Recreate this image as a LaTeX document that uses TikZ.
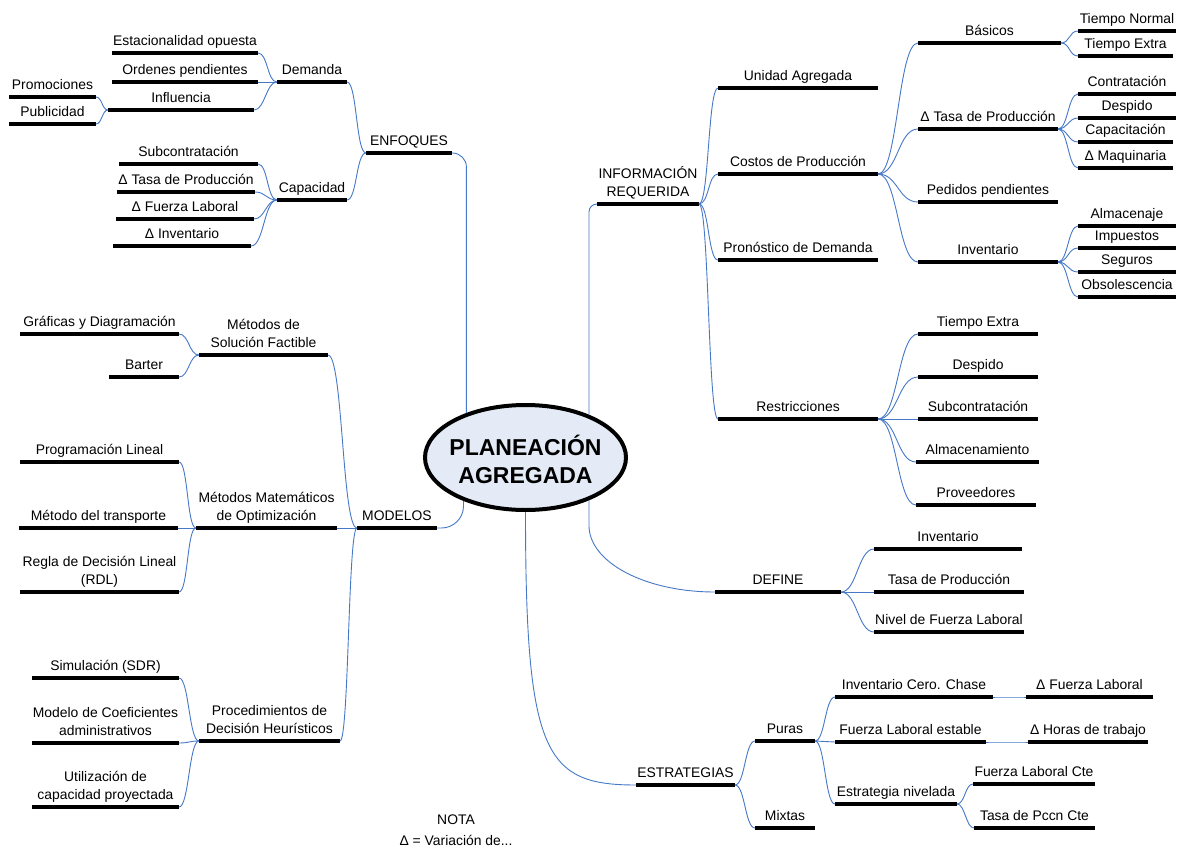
\documentclass[tikz,border=0pt]{standalone}
\usepackage{fontspec}
\setmainfont{Liberation Sans}
\usetikzlibrary{shapes.geometric}
\definecolor{linkblue}{RGB}{70,120,200}
\definecolor{corefill}{RGB}{228,235,246}
\newcommand\lblfont{\fontsize{13.9pt}{18pt}\selectfont}
\newcommand\titlefont{\fontsize{23pt}{28pt}\selectfont\bfseries}
\tikzset{
  barline/.style={fill=black, inner sep=0pt, outer sep=0pt, minimum height=4.5pt},
  lbl/.style={font=\lblfont, inner sep=0pt, align=center, text depth=3.2pt},
  conn/.style={draw=linkblue, line width=0.9pt},
}
% a topic: thick underline (the named node) with its caption above it
\newcommand\mmbranch[5]{\node[barline, minimum width={#3-#2},
  label={[lbl, label distance=2pt]above:{#5}}] (#1) at ({(#2+#3)/2},#4) {};}
% curved connector from the right end of one bar to the left end of another
\newcommand\mmjoin[3]{\draw[conn] (#1.east) .. controls +(#3,0) and +(-#3,0) .. (#2.west);}

\begin{document}
\begin{tikzpicture}[x=1pt,y=-1pt]
\useasboundingbox (0,0) rectangle (1181,848);
\fill[white] (0,0) rectangle (1181,848);

% central topic
\node[ellipse, draw, line width=4pt, fill=corefill, minimum width=201pt,
  minimum height=105pt, inner sep=0pt] (core) at (525.5,457.5) {};
\node[font=\titlefont, align=center, inner sep=0pt] (coretext) at (525.5,459) {PLANEACIÓN\\AGREGADA};

% ENFOQUES
\mmbranch{estac}{112}{258}{53}{Estacionalidad opuesta}
\mmbranch{orden}{112}{258}{82}{Ordenes pendientes}
\mmbranch{influ}{108}{254}{110}{Influencia}
\mmbranch{promo}{9}{96}{97}{Promociones}
\mmbranch{publi}{9}{96}{124}{Publicidad}
\mmbranch{dem}{277}{347}{82}{Demanda}
\mmbranch{enf}{366}{452}{153}{ENFOQUES}
\mmbranch{subc}{119}{258}{164}{Subcontratación}
\mmbranch{dtasa}{117}{255}{192}{Δ Tasa de Producción}
\mmbranch{dfuer}{116}{254}{219}{Δ Fuerza Laboral}
\mmbranch{dinv}{113}{251}{246}{Δ Inventario}
\mmbranch{cap}{277}{347}{200}{Capacidad}

% MODELOS
\mmbranch{graf}{20}{179}{334}{Gráficas y Diagramación}
\mmbranch{barter}{109}{179}{377}{Barter}
\mmbranch{msol}{199}{328}{355}{Métodos de\\Solución Factible}
\mmbranch{plin}{20}{179}{462}{Programación Lineal}
\mmbranch{mtrans}{19}{178}{528}{Método del transporte}
\mmbranch{rdl}{20}{179}{592}{Regla de Decisión Lineal\\(RDL)}
\mmbranch{mmat}{196}{337}{528}{Métodos Matemáticos\\de Optimización}
\mmbranch{mod}{357}{437}{528}{MODELOS}
\mmbranch{sim}{32}{179}{678}{Simulación (SDR)}
\mmbranch{coef}{32}{179}{743}{Modelo de Coeficientes\\administrativos}
\mmbranch{util}{32}{179}{807}{Utilización de\\capacidad proyectada}
\mmbranch{proc}{199}{340}{741}{Procedimientos de\\Decisión Heurísticos}

% INFORMACIÓN REQUERIDA
\mmbranch{info}{597}{699}{204}{INFORMACIÓN\\REQUERIDA}
\mmbranch{unid}{718}{878}{88}{Unidad Agregada}
\mmbranch{costos}{718}{878}{174}{Costos de Producción}
\mmbranch{prono}{718}{878}{260}{Pronóstico de Demanda}
\mmbranch{restr}{718}{878}{419}{Restricciones}
\mmbranch{basic}{918}{1061}{43}{Básicos}
\mmbranch{ctasa}{918}{1058}{129}{Δ Tasa de Producción}
\mmbranch{pedid}{918}{1058}{202}{Pedidos pendientes}
\mmbranch{cinv}{918}{1058}{262}{Inventario}
\mmbranch{tnorm}{1078}{1176}{31}{Tiempo Normal}
\mmbranch{textra}{1078}{1173}{56}{Tiempo Extra}
\mmbranch{contr}{1078}{1176}{94}{Contratación}
\mmbranch{desp}{1078}{1176}{118}{Despido}
\mmbranch{capac}{1078}{1173}{142}{Capacitación}
\mmbranch{dmaq}{1078}{1173}{168}{Δ Maquinaria}
\mmbranch{almac}{1078}{1176}{226}{Almacenaje}
\mmbranch{impu}{1078}{1176}{248}{Impuestos}
\mmbranch{segu}{1078}{1176}{272}{Seguros}
\mmbranch{obso}{1078}{1176}{297}{Obsolescencia}
\mmbranch{rtext}{918}{1038}{334}{Tiempo Extra}
\mmbranch{rdesp}{918}{1038}{377}{Despido}
\mmbranch{rsubc}{918}{1038}{419}{Subcontratación}
\mmbranch{ralm}{916}{1039}{462}{Almacenamiento}
\mmbranch{rprov}{916}{1036}{505}{Proveedores}

% DEFINE
\mmbranch{def}{715}{841}{592}{DEFINE}
\mmbranch{dinvb}{874}{1022}{549}{Inventario}
\mmbranch{dtasab}{874}{1024}{592}{Tasa de Producción}
\mmbranch{dniv}{874}{1024}{632}{Nivel de Fuerza Laboral}

% ESTRATEGIAS
\mmbranch{estr}{636}{735}{785}{ESTRATEGIAS}
\mmbranch{puras}{755}{815}{741}{Puras}
\mmbranch{mixtas}{755}{815}{828}{Mixtas}
\mmbranch{icero}{835}{993}{697}{Inventario Cero. Chase}
\mmbranch{fles}{835}{986}{742}{Fuerza Laboral estable}
\mmbranch{enivel}{835}{957}{804}{Estrategia nivelada}
\mmbranch{dfl}{1026}{1153}{697}{Δ Fuerza Laboral}
\mmbranch{dhor}{1028}{1148}{742}{Δ Horas de trabajo}
\mmbranch{flcte}{973}{1095}{784}{Fuerza Laboral Cte}
\mmbranch{tpcte}{974}{1095}{828}{Tasa de Pccn Cte}

% connectors, left half
\mmjoin{estac}{dem}{10}
\mmjoin{orden}{dem}{10}
\mmjoin{influ}{dem}{11}
\mmjoin{promo}{influ}{6}
\mmjoin{publi}{influ}{6}
\mmjoin{dem}{enf}{10}
\mmjoin{cap}{enf}{10}
\mmjoin{subc}{cap}{10}
\mmjoin{dtasa}{cap}{11}
\mmjoin{dfuer}{cap}{11}
\mmjoin{dinv}{cap}{13}
\mmjoin{graf}{msol}{10}
\mmjoin{barter}{msol}{10}
\mmjoin{plin}{mmat}{9}
\mmjoin{mtrans}{mmat}{9}
\mmjoin{rdl}{mmat}{9}
\mmjoin{sim}{proc}{10}
\mmjoin{coef}{proc}{10}
\mmjoin{util}{proc}{10}
\mmjoin{msol}{mod}{15}
\mmjoin{mmat}{mod}{10}
\mmjoin{proc}{mod}{9}

% connectors, right half
\mmjoin{info}{unid}{10}
\mmjoin{info}{costos}{10}
\mmjoin{info}{prono}{10}
\mmjoin{info}{restr}{10}
\mmjoin{costos}{basic}{20}
\mmjoin{costos}{ctasa}{20}
\mmjoin{costos}{pedid}{20}
\mmjoin{costos}{cinv}{20}
\mmjoin{basic}{tnorm}{9}
\mmjoin{basic}{textra}{9}
\mmjoin{ctasa}{contr}{10}
\mmjoin{ctasa}{desp}{10}
\mmjoin{ctasa}{capac}{10}
\mmjoin{ctasa}{dmaq}{10}
\mmjoin{cinv}{almac}{10}
\mmjoin{cinv}{impu}{10}
\mmjoin{cinv}{segu}{10}
\mmjoin{cinv}{obso}{10}
\mmjoin{restr}{rtext}{20}
\mmjoin{restr}{rdesp}{20}
\mmjoin{restr}{rsubc}{20}
\mmjoin{restr}{ralm}{19}
\mmjoin{restr}{rprov}{19}
\mmjoin{def}{dinvb}{16}
\mmjoin{def}{dtasab}{16}
\mmjoin{def}{dniv}{16}
\mmjoin{estr}{puras}{10}
\mmjoin{estr}{mixtas}{10}
\mmjoin{puras}{icero}{10}
\mmjoin{puras}{fles}{10}
\mmjoin{puras}{enivel}{10}
\mmjoin{icero}{dfl}{10}
\mmjoin{fles}{dhor}{10}
\mmjoin{enivel}{flcte}{8}
\mmjoin{enivel}{tpcte}{8}

% main branches to the central ellipse
\draw[conn, rounded corners=14pt] (enf.east) -| (core.143);
\draw[conn, rounded corners=22pt] (mod.east) -| (core.215);
\draw[conn, rounded corners=8pt] (info.west) -| (core.34);
\draw[conn] (core.-34) -- ++(0,25) .. controls +(0,37) and +(-70,0) .. (def.west);
\draw[conn] (core.south) .. controls +(0,243) and +(-91,0) .. (estr.west);

% note
\node[font=\lblfont, inner sep=0pt] (nota) at (456,820) {NOTA};
\node[font=\lblfont, inner sep=0pt] (notadef) at (456,840) {Δ = Variación de...};
\end{tikzpicture}
\end{document}
